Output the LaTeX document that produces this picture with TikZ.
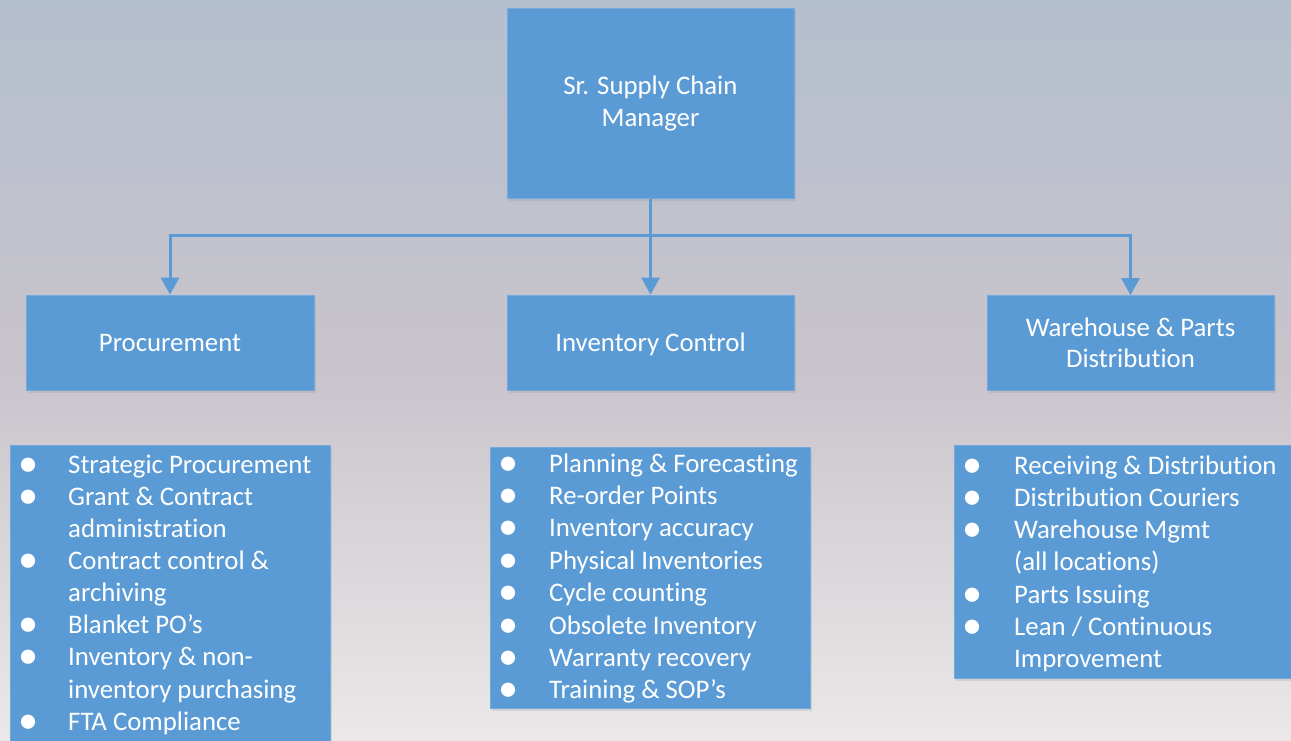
\documentclass[tikz,border=0pt]{standalone}
\usepackage{fontspec}
\setmainfont{Carlito}[Ligatures=NoCommon]
\usetikzlibrary{arrows.meta,shadows}
\definecolor{boxblue}{HTML}{5B9BD5}
\definecolor{bgtop}{RGB}{180,191,205}
\definecolor{bgmid}{RGB}{201,196,204}
\definecolor{bgbot}{RGB}{234,232,232}
\newcommand\bulletmark{\hspace*{-4pt}\smash{\raisebox{-3pt}{\scalebox{1.5}{•}}}}
\begin{document}
\begin{tikzpicture}[x=1pt,y=-1pt,
  box/.style={fill=boxblue, draw=boxblue!85!white, line width=0.8pt, text=white, align=center,
    inner sep=0pt, font=\fontsize{26.8}{31.5}\selectfont,
    drop shadow={opacity=0.18, shadow xshift=1.5pt, shadow yshift=-2.5pt}},
  conn/.style={draw=boxblue, line width=3pt, -{Triangle[width=18pt,length=17pt]}},
  item/.style={text=white, anchor=base west, inner sep=0pt, font=\fontsize{26.8}{32}\selectfont}]
\clip (0,0) rectangle (1291,740);
\shade[top color=bgtop, bottom color=bgbot, middle color=bgmid] (0,0) rectangle (1291,740);

% boxes
\node[box, minimum width=287pt, minimum height=190pt] (top) at (650.5,103.5) {Sr. Supply Chain\\Manager};
\node[box, minimum width=288pt, minimum height=95pt] (proc) at (170,342.5) {Procurement};
\node[box, minimum width=287pt, minimum height=95pt] (inv) at (650.5,342.5) {\raisebox{-2pt}[\height][\depth]{Inventory Control}};
\node[box, minimum width=287pt, minimum height=95pt] (wh) at (1130.5,343) {Warehouse \& Parts\\Distribution};

% list boxes
\node[box, anchor=north west, minimum width=320pt, minimum height=310pt] (procl) at (10,445) {};
\node[box, anchor=north west, minimum width=320pt, minimum height=261pt] (invl) at (490,447) {};
\node[box, anchor=north west, minimum width=350pt, minimum height=233pt] (whl) at (954,445) {};

% connectors
\coordinate (bus) at (650.5,235);
\draw[conn] (top.south) -- (inv.north);
\draw[conn] (bus) -| (proc.north);
\draw[conn] (bus) -| (wh.north);

% procurement list
\foreach \b/\t [count=\i from 0] in {1/{Strategic Procurement}, 1/{Grant \& Contract}, 0/{administration},
  1/{Contract control \&}, 0/{archiving}, 1/{Blanket PO’s}, 1/{Inventory \& non-}, 0/{inventory purchasing},
  1/{FTA Compliance}} {
  \node[item] (p\i) at (22.5,473+\i*32.15) {\makebox[45.5pt][l]{\ifnum\b=1 \bulletmark\fi}\t};
}
% inventory list
\foreach \t [count=\i from 0] in {{Planning \& Forecasting}, {Re-order Points}, {Inventory accuracy},
  {Physical Inventories}, {Cycle counting}, {Obsolete Inventory}, {Warranty recovery}, {Training \& SOP’s}} {
  \node[item] (v\i) at (502,472+\i*32.4) {\makebox[47pt][l]{\bulletmark}\t};
}
% warehouse list
\foreach \b/\t [count=\i from 0] in {1/{Receiving \& Distribution}, 1/{Distribution Couriers},
  1/{Warehouse Mgmt}, 0/{(all locations)}, 1/{Parts Issuing}, 1/{Lean / Continuous}, 0/{Improvement}} {
  \node[item] (w\i) at (966,474+\i*32.3) {\makebox[48pt][l]{\ifnum\b=1 \bulletmark\fi}\t};
}
\end{tikzpicture}
\end{document}
